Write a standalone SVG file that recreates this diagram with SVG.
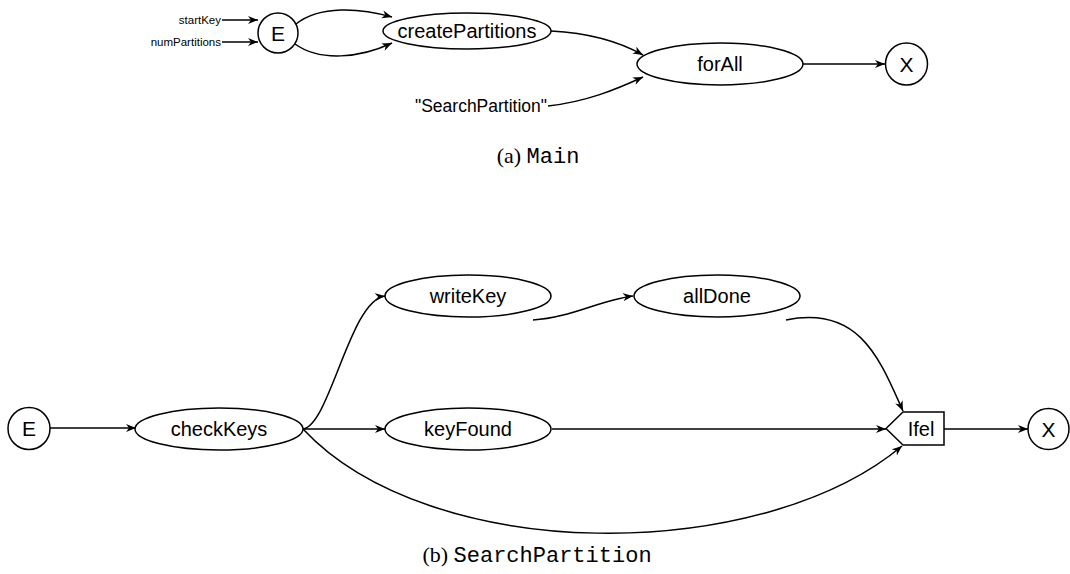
<svg xmlns="http://www.w3.org/2000/svg" width="1070" height="574" viewBox="0 0 1070 574">
<style>
.n{fill:#fff;stroke:#000;stroke-width:1.5}
.t{font-family:"Liberation Sans",Arial,sans-serif;font-size:20px;fill:#000;text-anchor:middle;dominant-baseline:central}
.s{font-family:"Liberation Sans",Arial,sans-serif;font-size:11.5px;fill:#000;text-anchor:end;dominant-baseline:central}
.e{fill:none;stroke:#000;stroke-width:1.5;marker-end:url(#a)}
.cap{font-size:22px;fill:#000;text-anchor:middle}
.serif{font-family:"Liberation Serif","DejaVu Serif",serif}
.mono{font-family:"Liberation Mono","DejaVu Sans Mono",monospace}
</style>
<defs>
<marker id="a" markerUnits="userSpaceOnUse" markerWidth="11" markerHeight="9" refX="10" refY="4" orient="auto">
<path d="M0,0 L10,4 L0,8 L3,4 z" fill="#000"/>
</marker>
</defs>
<g id="connectors">
<path class="e" d="M222,20 L258,20"/>
<path class="e" d="M222,42 L258,42"/>
<path class="e" d="M296,24 C320,5 360,8 392,17"/>
<path class="e" d="M295,44 C320,62 360,58 392,43"/>
<path class="e" d="M551,31 C590,33 620,42 643,55"/>
<path class="e" d="M548,106 C585,102 615,90 643,77"/>
<path class="e" d="M803,64 L885,64"/>
<path class="e" d="M50,428 L136,428"/>
<path class="e" d="M303,429 C330,425 350,300 385,296"/>
<path class="e" d="M303,429 L385,429"/>
<path class="e" d="M303,429 C430,565 760,565 902,446"/>
<path class="e" d="M533,320 C570,318 600,300 633,296"/>
<path class="e" d="M786,320 C860,305 880,360 903,411"/>
<path class="e" d="M552,429 L886,429"/>
<path class="e" d="M944,429 L1028,429"/>
</g>
<g id="in-startKey"><text class="s" x="221" y="20">startKey</text></g>
<g id="in-numPartitions"><text class="s" x="221" y="42">numPartitions</text></g>
<g id="in-searchPartition"><text class="t" x="481" y="106" style="font-size:17.5px">"SearchPartition"</text></g>
<g id="a-E"><circle class="n" cx="278" cy="33" r="20"/><text class="t" x="278" y="33" style="font-size:21px">E</text></g>
<g id="a-createPartitions"><ellipse class="n" cx="467" cy="31" rx="84" ry="18"/><text class="t" x="467" y="31">createPartitions</text></g>
<g id="a-forAll"><ellipse class="n" cx="720" cy="64" rx="83" ry="21"/><text class="t" x="720" y="64">forAll</text></g>
<g id="a-X"><circle class="n" cx="906.5" cy="64" r="21"/><text class="t" x="906.5" y="64" style="font-size:21px">X</text></g>
<g id="caption-a"><text class="cap" x="538" y="163"><tspan class="serif">(a) </tspan><tspan class="mono">Main</tspan></text></g>
<g id="b-E"><circle class="n" cx="29" cy="428.5" r="21"/><text class="t" x="29" y="428.5" style="font-size:21px">E</text></g>
<g id="b-checkKeys"><ellipse class="n" cx="219" cy="429" rx="84" ry="21"/><text class="t" x="219" y="429">checkKeys</text></g>
<g id="b-writeKey"><ellipse class="n" cx="468" cy="296" rx="83" ry="21"/><text class="t" x="468" y="296">writeKey</text></g>
<g id="b-allDone"><ellipse class="n" cx="717" cy="296" rx="83" ry="21"/><text class="t" x="717" y="296">allDone</text></g>
<g id="b-keyFound"><ellipse class="n" cx="468" cy="429" rx="83" ry="21"/><text class="t" x="468" y="429">keyFound</text></g>
<g id="b-Ifel"><path class="n" d="M886,428.5 L903,412 L944,412 L944,445 L903,445 Z"/><text class="t" x="921" y="428.5">Ifel</text></g>
<g id="b-X"><circle class="n" cx="1048.5" cy="429" r="20.5"/><text class="t" x="1048.5" y="429" style="font-size:21px">X</text></g>
<g id="caption-b"><text class="cap" x="537" y="562"><tspan class="serif">(b) </tspan><tspan class="mono">SearchPartition</tspan></text></g>
</svg>
